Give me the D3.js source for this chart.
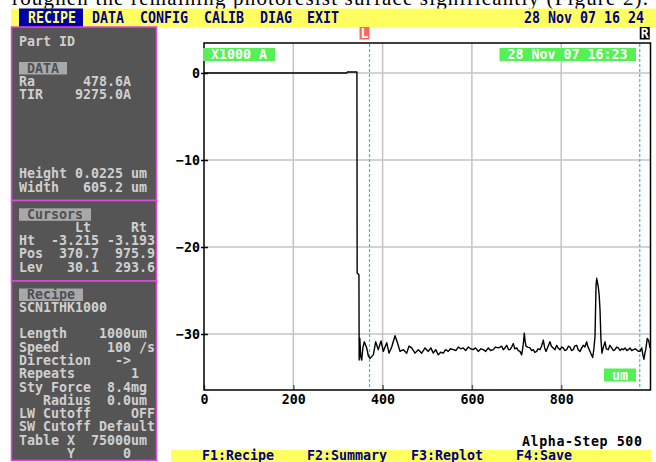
<!DOCTYPE html>
<html>
<head>
<meta charset="utf-8">
<script src="https://cdn.jsdelivr.net/npm/d3@7"></script>
<style>
  body { margin: 0; background: #fff; }
  svg text { white-space: pre; }
</style>
</head>
<body>
<div id="chart"></div>
<script>
// Variables
var width = 656;
var height = 462;
var mono = "'DejaVu Sans Mono', 'Liberation Mono', monospace";

// profile trace: scan position (um) and height (x1000 A)
var scanPos = [0, 320, 321, 342.5, 343, 347, 347.5, 349, 351, 353.2, 356, 359, 364.4, 368, 371.8, 379.2, 384.5, 390.4, 396.4, 401.6,
  409.2, 414.3, 420.4, 427.8, 433.8, 439, 446.4, 454, 459, 465.2, 472.6, 480, 487.6, 495, 502.4, 508, 513.5, 519, 524.7, 530,
  536, 541, 547.1, 552, 558.3, 564, 569.5, 575, 580.7, 586, 592, 597, 603, 608, 614.3, 620, 625.5, 631, 636.7, 642,
  648, 653, 659, 663, 666.7, 670.3, 674, 677.9, 682, 685.3, 689, 692.7, 696, 700.3, 704, 707.7, 711.5, 715, 717.4, 719,
  721.2, 725, 730.1, 734, 737.5, 741, 745.1, 748, 752.5, 756, 759.9, 763, 766, 770, 774.9, 778, 782.3, 786, 789.9, 793,
  797.3, 801, 804.7, 808, 812.3, 816, 819.7, 823, 827.1, 830, 834.7, 838, 842.1, 846, 849.5, 853, 857.1, 860, 862.9, 867,
  870.5, 873, 875.7, 878, 879.5, 881, 883.1, 885, 886.9, 889.1, 891.4, 894, 898.1, 901, 905.5, 909, 913.1, 917, 920.5, 924,
  927.9, 932, 936, 939.1, 943, 947, 950.3, 954, 958, 961.5, 966, 970.5, 974, 976.5, 980.3, 983, 985.4, 987.5, 989.3, 992.8,
  995, 996.6, 998.9];
var heightK = [0, 0, 0.12, 0.12, -23, -23.2, -33.0, -30.5, -32.6, -33.0, -31.5, -30.9, -31.6, -32.5, -32.8, -32.4, -30.9, -31.8, -30.8, -32.0,
  -31.0, -32.2, -31.5, -30.2, -31.1, -32.0, -31.8, -32.2, -31.4, -31.6, -32.2, -31.8, -32.2, -31.6, -32.0, -31.6, -32.2, -31.8, -32.4, -32.1,
  -32.2, -31.8, -32.0, -31.7, -31.8, -31.9, -31.5, -31.7, -31.6, -31.9, -31.5, -31.7, -31.8, -31.6, -32.0, -31.7, -31.8, -32.0, -31.6, -31.9,
  -31.8, -31.5, -31.6, -31.5, -31.4, -31.8, -31.6, -31.3, -31.8, -31.8, -31.5, -31.1, -31.7, -31.6, -31.9, -32.0, -32.4, -31.2, -29.9, -30.8,
  -31.4, -31.5, -31.6, -31.9, -31.8, -32.1, -32.0, -31.7, -31.8, -31.4, -30.7, -31.6, -32.0, -31.5, -30.9, -31.4, -31.6, -31.8, -31.3, -31.6,
  -31.8, -31.5, -31.6, -31.9, -31.8, -31.4, -31.5, -31.9, -31.8, -31.4, -31.3, -31.8, -32.0, -31.6, -31.3, -31.5, -30.9, -31.5, -31.8, -32.3,
  -32.7, -31.8, -30.3, -24.5, -23.6, -24.0, -24.6, -25.5, -27.2, -30.7, -32.2, -31.6, -30.9, -31.7, -31.8, -31.3, -31.6, -31.9, -31.8, -31.5,
  -31.6, -31.9, -31.7, -31.8, -31.6, -31.9, -31.8, -31.6, -31.9, -31.8, -31.7, -31.9, -32.0, -32.0, -31.6, -32.4, -32.9, -32.2, -31.8, -30.5,
  -30.7, -30.9, -31.6];

var xTicks = [0, 200, 400, 600, 800];
var yTicks = [0, -10, -20, -30];
var cursorPos = [370.7, 975.9];
var cursorNames = ["L", "R"];

var menuItems = ["RECIPE", "DATA", "CONFIG", "CALIB", "DIAG", "EXIT"];
var menuX = [28, 92, 140, 204, 260, 307];
var fnKeys = ["F1:Recipe", "F2:Summary", "F3:Replot", "F4:Save"];
var fnX = [202, 307, 411, 516];

var dataLines = ["Ra      478.6A", "TIR    9275.0A"];
var sizeLines = ["Height 0.0225 um", "Width   605.2 um"];
var cursorLines = ["       Lt     Rt", "Ht  -3.215 -3.193", "Pos  370.7  975.9", "Lev   30.1  293.6"];
var recipeLines = ["SCN1THK1000", "", "Length    1000um", "Speed      100 /s", "Direction   ->", "Repeats       1",
  "Sty Force  8.4mg", "   Radius  0.0um", "LW Cutoff     OFF", "SW Cutoff Default", "Table X  75000um", "      Y      0"];

var svg = d3.select('#chart').append('svg')
    .attr('width', width)
    .attr('height', height);

// cut-off line of document text above the screen grab
svg.append('text')
    .attr('x', 12).attr('y', 5)
    .attr('textLength', 636)
    .style('font-family', "'Liberation Serif', 'DejaVu Serif', serif")
    .style('font-size', '21px')
    .text('roughen the remaining photoresist surface significantly (Figure 2).');

// menu bar
svg.append('rect').attr('x', 11).attr('y', 8.5).attr('width', 645).attr('height', 18.5).attr('fill', '#ffff60');
svg.append('rect').attr('x', 19).attr('y', 8.5).attr('width', 64).attr('height', 18.5).attr('fill', '#0000a8');

function monoText(g, x, y, str, fill, sy) {
  return g.append('text')
      .attr('transform', 'translate(' + x + ',' + y + ') scale(1,' + (sy || 1) + ')')
      .style('font-family', mono)
      .style('font-weight', 'bold')
      .style('font-size', '13.3px')
      .attr('fill', fill)
      .text(str);
}

menuItems.forEach(function(m, i) {
  monoText(svg, menuX[i], 22.5, m, i == 0 ? '#ffff60' : '#000088', 1.14);
});
monoText(svg, 524, 22.5, '28 Nov 07 16 24', '#000088', 1.14);

// left info panel
var panel = svg.append('g');
var sections = [[27, 200.5], [200.5, 281], [281, 460.5]];
sections.forEach(function(s) {
  panel.append('rect')
      .attr('x', 11.5).attr('y', s[0])
      .attr('width', 145).attr('height', s[1] - s[0])
      .attr('fill', '#555555')
      .attr('stroke', '#e048e0')
      .attr('stroke-width', 1.5);
});

function tag(y, w, label) {
  panel.append('rect').attr('x', 19).attr('y', y).attr('width', w).attr('height', 12.5).attr('fill', '#a8a8a8');
  monoText(panel, 27, y + 10.5, label, '#505050');
}

var lightText = '#cfcfcf';
monoText(panel, 19, 45.5, 'Part ID', lightText);
tag(62, 48, 'DATA');
dataLines.forEach(function(l, i) { monoText(panel, 19, 85.5 + i * 13.3, l, lightText); });
sizeLines.forEach(function(l, i) { monoText(panel, 19, 178.3 + i * 13.3, l, lightText); });
tag(208.3, 72, 'Cursors');
cursorLines.forEach(function(l, i) { monoText(panel, 19, 231.7 + i * 13.3, l, lightText); });
tag(288.5, 64, 'Recipe');
recipeLines.forEach(function(l, i) { monoText(panel, 19, 311.7 + i * 13.3, l, lightText); });

// plot area
var plotLeft = 204, plotRight = 650.5, plotTop = 43, plotBottom = 390;
var x = d3.scaleLinear().domain([0, 1000]).range([plotLeft, plotRight]);
var y = d3.scaleLinear().domain([0, -30]).range([73, 334]);

var grid = svg.append('g');
grid.selectAll('line.vx')
    .data(xTicks.slice(1))
    .enter().append('line')
    .attr('x1', function(d) { return x(d); }).attr('x2', function(d) { return x(d); })
    .attr('y1', plotTop).attr('y2', plotBottom)
    .attr('stroke', '#c4c4c4').attr('stroke-width', 1.5);
grid.selectAll('line.hy')
    .data(yTicks)
    .enter().append('line')
    .attr('x1', plotLeft).attr('x2', plotRight)
    .attr('y1', function(d) { return y(d); }).attr('y2', function(d) { return y(d); })
    .attr('stroke', '#c4c4c4').attr('stroke-width', 1.5);

// x axis, ticks pointing into the plot
var xAxis = svg.append('g')
    .attr('transform', 'translate(0,' + plotBottom + ')')
    .call(d3.axisBottom(x).tickValues(xTicks).tickSizeInner(-5).tickSizeOuter(0).tickFormat(d3.format('d')));
xAxis.select('.domain').remove();
xAxis.selectAll('line').attr('stroke', '#606060').attr('stroke-width', 1.5);
xAxis.selectAll('text')
    .attr('y', 14).attr('dy', 0)
    .style('font-family', mono).style('font-weight', 'bold').style('font-size', '13.3px')
    .attr('fill', '#000');

// y axis
var yAxis = svg.append('g')
    .attr('transform', 'translate(' + plotLeft + ',0)')
    .call(d3.axisLeft(y).tickValues(yTicks).tickSizeInner(3).tickSizeOuter(0).tickPadding(2).tickFormat(d3.format('d')));
yAxis.select('.domain').remove();
yAxis.selectAll('line').attr('stroke', '#000').attr('stroke-width', 1.5).attr('x2', 4).attr('x1', -3);
yAxis.selectAll('text')
    .attr('x', -4).attr('dy', '0.32em')
    .style('font-family', mono).style('font-weight', 'bold').style('font-size', '13.3px')
    .attr('fill', '#000');

// frame
svg.append('rect')
    .attr('x', plotLeft).attr('y', plotTop)
    .attr('width', plotRight - plotLeft).attr('height', plotBottom - plotTop)
    .attr('fill', 'none').attr('stroke', '#000').attr('stroke-width', 1.5);

// cursors
var cur = svg.append('g');
cur.selectAll('line')
    .data(cursorPos)
    .enter().append('line')
    .attr('x1', function(d) { return x(d); }).attr('x2', function(d) { return x(d); })
    .attr('y1', plotTop + 1).attr('y2', plotBottom - 1)
    .attr('stroke', '#30c4c8').attr('stroke-width', 1.2)
    .attr('stroke-dasharray', '3,2');
cursorPos.forEach(function(d, i) {
  var bx = i == 0 ? x(d) - 10 : x(d);
  cur.append('rect').attr('x', bx).attr('y', 27).attr('width', 10).attr('height', 12.5)
      .attr('fill', i == 0 ? '#ff6464' : '#000');
  monoText(cur, bx + 1, 37.5, cursorNames[i], '#fff');
});

// profile trace
var line = d3.line()
    .x(function(d, i) { return x(scanPos[i]); })
    .y(function(d) { return y(d); });
svg.append('path')
    .datum(heightK)
    .attr('d', line)
    .attr('fill', 'none')
    .attr('stroke', '#000')
    .attr('stroke-width', 1.4)
    .attr('stroke-linejoin', 'round');

// green tags
function greenTag(x0, y0, w, label) {
  svg.append('rect').attr('x', x0).attr('y', y0).attr('width', w).attr('height', 13).attr('fill', '#55f055');
  monoText(svg, x0 + 8, y0 + 11, label, '#fff');
}
greenTag(203, 48, 72, 'X1000 A');
greenTag(499.5, 48, 136.5, '28 Nov 07 16:23');
greenTag(604, 368.5, 32, 'um');

// bottom bar
monoText(svg, 522, 446, 'Alpha-Step 500', '#000').attr('textLength', 120);
svg.append('rect').attr('x', 171).attr('y', 450).attr('width', 480).attr('height', 12).attr('fill', '#ffff60');
fnKeys.forEach(function(f, i) {
  monoText(svg, fnX[i], 459.5, f, '#000088');
});
</script>
</body>
</html>
